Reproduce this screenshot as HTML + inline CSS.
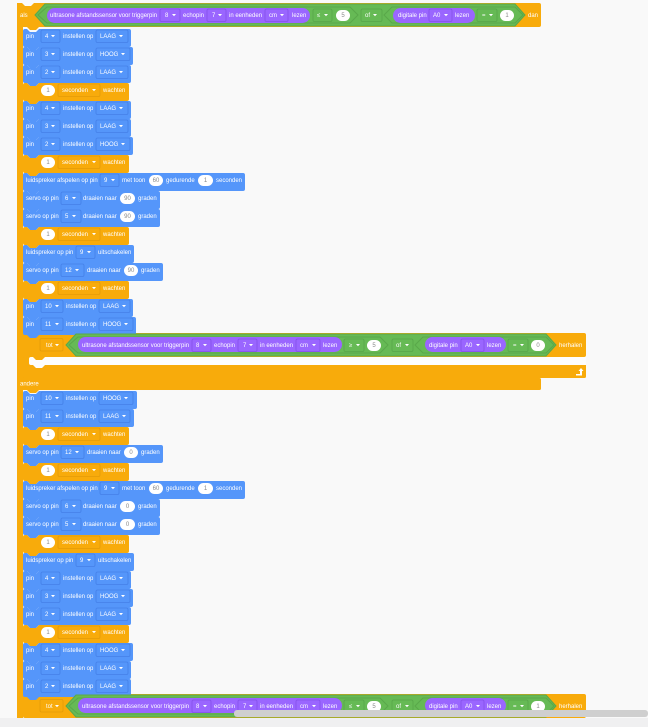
<!DOCTYPE html>
<html><head><meta charset="utf-8"><style>
html,body{margin:0;padding:0;background:#f9f9f9;width:648px;height:727px;overflow:hidden}
svg{display:block;position:absolute;left:0;top:0;filter:blur(.35px)}
text{font:6px "Liberation Sans",sans-serif;fill:#fff}
path{fill:#fff}
path.B{fill:#5596fa}
path.O{fill:#f8ab0b}
.or{fill:#f8ab0b}
.gr{fill:#66ba55;stroke:#59a84a;stroke-width:1}
.pu{fill:#9a66ff}
rect.d{y:-8px;height:12.5px;rx:1.5px;fill:#5596fa;stroke:#4580e8;stroke-width:.8}
rect.y{y:-8px;height:12.5px;rx:1.5px;fill:#f8ab0b;stroke:#e39c08;stroke-width:.8}
rect.g{y:-6px;height:12.5px;rx:1.5px;fill:#66ba55;stroke:#57a549;stroke-width:.8}
rect.p{y:-6px;height:12.5px;rx:1.5px;fill:#9a66ff;stroke:#8450ea;stroke-width:.8}
rect.o{y:-7px;height:11px;rx:5.5px;fill:#fff}
rect.q{y:-5px;height:11px;rx:5.5px;fill:#fff}
text.v{fill:#8a8a8a;text-anchor:middle}
</style></head><body>
<svg width="648" height="727" viewBox="0 0 648 727" xmlns="http://www.w3.org/2000/svg">
<rect x="17" y="3" width="6" height="715" class="or"/>
<rect x="17" y="3" width="524" height="24" rx="2" class="or"/>
<path d="M22 3l3 3h6l3-3z" style="fill:#f9f9f9"/>
<polygon points="27,27 30,30 36,30 39,27" class="or"/>
<g transform="translate(0,15)">
<text x="20" y="2">als</text>
<polygon class="gr" points="35,0 45,-11 515,-11 525,0 515,11 45,11"/>
<polygon class="gr" points="38,0 47,-8 350,-8 358,0 350,8 47,8"/>
<polygon class="gr" points="384,0 392,-8 515,-8 523,0 515,8 392,8"/>
<rect x="47" y="-7" width="263" height="15" rx="7.5" class="pu"/>
<text x="50" y="2">ultrasone afstandssensor voor triggerpin</text>
<rect class="p" x="160" width="20"/><text x="165" y="2">8</text><path d="M172-1h4l-2 2.200z"/>
<text x="183" y="2">echopin</text>
<rect class="p" x="207" width="19"/><text x="212" y="2">7</text><path d="M218-1h4l-2 2.200z"/>
<text x="229" y="2">in eenheden</text>
<rect class="p" x="265" width="23"/><text x="269" y="2">cm</text><path d="M280-1h4l-2 2.200z"/>
<text x="292" y="2">lezen</text>
<rect class="g" x="313" width="19"/><text x="317" y="2">≤</text><path d="M324-1h4l-2 2.200z"/>
<rect class="q" x="336" width="14"/><text class="v" x="343" y="2">5</text>
<rect class="g" x="361" width="21"/><text x="365" y="2">of</text><path d="M373-1h4l-2 2.200z"/>
<rect x="393" y="-7" width="82" height="15" rx="7.5" class="pu"/>
<text x="398" y="2">digitale pin</text>
<rect class="p" x="429" width="23"/><text x="433" y="2">A0</text><path d="M444-1h4l-2 2.200z"/>
<text x="455" y="2">lezen</text>
<rect class="g" x="477" width="20"/><text x="482" y="2">=</text><path d="M489-1h4l-2 2.200z"/>
<rect class="q" x="500" width="14"/><text class="v" x="507" y="2">1</text>
<text x="528" y="2">dan</text>
</g>

<!-- first repeat block -->
<rect x="23" y="333" width="563" height="24" rx="2" class="or"/>
<rect x="23" y="333" width="6" height="45" class="or"/>
<rect x="23" y="357" width="563" height="21" rx="1.5" class="or"/>
<path d="M31 357h2l3 3h6l3-3H586V365H45l-3 3h-6l-3-3h-2a2 2 0 0 1-2-2v-4a2 2 0 0 1 2-2z" style="fill:#fdfdfd"/>
<rect x="17" y="378" width="524" height="12" rx="1.5" class="or"/>
<polygon points="27,389 27,390 30,393 36,393 39,390 39,389" class="or"/>
<text x="20" y="385.5">andere</text>
<path d="M576 374h4v-3h-1.5l2.5-3 2.5 3h-1.5v4.500h-6z"/>
<!-- second repeat block -->
<rect x="23" y="694" width="563" height="24" rx="2" class="or"/>

<g transform="translate(0,38)"><path class="B" d="M23-7a2 2 0 0 1 2-2h2l3 3h6l3-3h90a2 2 0 0 1 2 2v14a2 2 0 0 1-2 2h-90l-3 3h-6l-3-3h-2a2 2 0 0 1-2-2z"/><text x="26">pin</text><rect class="d" x="41" width="19"/><text x="45">4</text><path d="M51-3h4l-2 2.200z"/><text x="63">instellen op</text><rect class="d" x="96" width="32"/><text x="100">LAAG</text><path d="M119-3h4l-2 2.200z"/></g>
<g transform="translate(0,56)"><path class="B" d="M23-7a2 2 0 0 1 2-2h2l3 3h6l3-3h92a2 2 0 0 1 2 2v14a2 2 0 0 1-2 2h-92l-3 3h-6l-3-3h-2a2 2 0 0 1-2-2z"/><text x="26">pin</text><rect class="d" x="41" width="19"/><text x="45">3</text><path d="M51-3h4l-2 2.200z"/><text x="63">instellen op</text><rect class="d" x="96" width="34"/><text x="100">HOOG</text><path d="M121-3h4l-2 2.200z"/></g>
<g transform="translate(0,74)"><path class="B" d="M23-7a2 2 0 0 1 2-2h2l3 3h6l3-3h90a2 2 0 0 1 2 2v14a2 2 0 0 1-2 2h-90l-3 3h-6l-3-3h-2a2 2 0 0 1-2-2z"/><text x="26">pin</text><rect class="d" x="41" width="19"/><text x="45">2</text><path d="M51-3h4l-2 2.200z"/><text x="63">instellen op</text><rect class="d" x="96" width="32"/><text x="100">LAAG</text><path d="M119-3h4l-2 2.200z"/></g>
<g transform="translate(0,92)"><path class="O" d="M23-7a2 2 0 0 1 2-2h2l3 3h6l3-3h88a2 2 0 0 1 2 2v14a2 2 0 0 1-2 2h-88l-3 3h-6l-3-3h-2a2 2 0 0 1-2-2z"/><rect class="o" x="41" width="14"/><text class="v" x="48">1</text><rect class="y" x="58" width="42"/><text x="62">seconden</text><path d="M92-3h4l-2 2.200z"/><text x="103">wachten</text></g>
<g transform="translate(0,110)"><path class="B" d="M23-7a2 2 0 0 1 2-2h2l3 3h6l3-3h90a2 2 0 0 1 2 2v14a2 2 0 0 1-2 2h-90l-3 3h-6l-3-3h-2a2 2 0 0 1-2-2z"/><text x="26">pin</text><rect class="d" x="41" width="19"/><text x="45">4</text><path d="M51-3h4l-2 2.200z"/><text x="63">instellen op</text><rect class="d" x="96" width="32"/><text x="100">LAAG</text><path d="M119-3h4l-2 2.200z"/></g>
<g transform="translate(0,128)"><path class="B" d="M23-7a2 2 0 0 1 2-2h2l3 3h6l3-3h90a2 2 0 0 1 2 2v14a2 2 0 0 1-2 2h-90l-3 3h-6l-3-3h-2a2 2 0 0 1-2-2z"/><text x="26">pin</text><rect class="d" x="41" width="19"/><text x="45">3</text><path d="M51-3h4l-2 2.200z"/><text x="63">instellen op</text><rect class="d" x="96" width="32"/><text x="100">LAAG</text><path d="M119-3h4l-2 2.200z"/></g>
<g transform="translate(0,146)"><path class="B" d="M23-7a2 2 0 0 1 2-2h2l3 3h6l3-3h92a2 2 0 0 1 2 2v14a2 2 0 0 1-2 2h-92l-3 3h-6l-3-3h-2a2 2 0 0 1-2-2z"/><text x="26">pin</text><rect class="d" x="41" width="19"/><text x="45">2</text><path d="M51-3h4l-2 2.200z"/><text x="63">instellen op</text><rect class="d" x="96" width="34"/><text x="100">HOOG</text><path d="M121-3h4l-2 2.200z"/></g>
<g transform="translate(0,164)"><path class="O" d="M23-7a2 2 0 0 1 2-2h2l3 3h6l3-3h88a2 2 0 0 1 2 2v14a2 2 0 0 1-2 2h-88l-3 3h-6l-3-3h-2a2 2 0 0 1-2-2z"/><rect class="o" x="41" width="14"/><text class="v" x="48">1</text><rect class="y" x="58" width="42"/><text x="62">seconden</text><path d="M92-3h4l-2 2.200z"/><text x="103">wachten</text></g>
<g transform="translate(0,182)"><path class="B" d="M23-7a2 2 0 0 1 2-2h2l3 3h6l3-3h204a2 2 0 0 1 2 2v14a2 2 0 0 1-2 2h-204l-3 3h-6l-3-3h-2a2 2 0 0 1-2-2z"/><text x="26">luidspreker afspelen op pin</text><rect class="d" x="100" width="19"/><text x="104">9</text><path d="M111-3h4l-2 2.200z"/><text x="122">met toon</text><rect class="o" x="149" width="14"/><text class="v" x="156">60</text><text x="166">gedurende</text><rect class="o" x="198" width="15"/><text class="v" x="205.500">1</text><text x="216">seconden</text></g>
<g transform="translate(0,200)"><path class="B" d="M23-7a2 2 0 0 1 2-2h2l3 3h6l3-3h119a2 2 0 0 1 2 2v14a2 2 0 0 1-2 2h-119l-3 3h-6l-3-3h-2a2 2 0 0 1-2-2z"/><text x="26">servo op pin</text><rect class="d" x="61" width="20"/><text x="65">6</text><path d="M72-3h4l-2 2.200z"/><text x="83">draaien naar</text><rect class="o" x="120" width="15"/><text class="v" x="127.500">90</text><text x="138">graden</text></g>
<g transform="translate(0,218)"><path class="B" d="M23-7a2 2 0 0 1 2-2h2l3 3h6l3-3h119a2 2 0 0 1 2 2v14a2 2 0 0 1-2 2h-119l-3 3h-6l-3-3h-2a2 2 0 0 1-2-2z"/><text x="26">servo op pin</text><rect class="d" x="61" width="20"/><text x="65">5</text><path d="M72-3h4l-2 2.200z"/><text x="83">draaien naar</text><rect class="o" x="120" width="15"/><text class="v" x="127.500">90</text><text x="138">graden</text></g>
<g transform="translate(0,236)"><path class="O" d="M23-7a2 2 0 0 1 2-2h2l3 3h6l3-3h88a2 2 0 0 1 2 2v14a2 2 0 0 1-2 2h-88l-3 3h-6l-3-3h-2a2 2 0 0 1-2-2z"/><rect class="o" x="41" width="14"/><text class="v" x="48">1</text><rect class="y" x="58" width="42"/><text x="62">seconden</text><path d="M92-3h4l-2 2.200z"/><text x="103">wachten</text></g>
<g transform="translate(0,254)"><path class="B" d="M23-7a2 2 0 0 1 2-2h2l3 3h6l3-3h93a2 2 0 0 1 2 2v14a2 2 0 0 1-2 2h-93l-3 3h-6l-3-3h-2a2 2 0 0 1-2-2z"/><text x="26">luidspreker op pin</text><rect class="d" x="76" width="19"/><text x="80">9</text><path d="M87-3h4l-2 2.200z"/><text x="98">uitschakelen</text></g>
<g transform="translate(0,272)"><path class="B" d="M23-7a2 2 0 0 1 2-2h2l3 3h6l3-3h122a2 2 0 0 1 2 2v14a2 2 0 0 1-2 2h-122l-3 3h-6l-3-3h-2a2 2 0 0 1-2-2z"/><text x="26">servo op pin</text><rect class="d" x="61" width="23"/><text x="65">12</text><path d="M75-3h4l-2 2.200z"/><text x="87">draaien naar</text><rect class="o" x="124" width="14"/><text class="v" x="131">90</text><text x="141">graden</text></g>
<g transform="translate(0,290)"><path class="O" d="M23-7a2 2 0 0 1 2-2h2l3 3h6l3-3h88a2 2 0 0 1 2 2v14a2 2 0 0 1-2 2h-88l-3 3h-6l-3-3h-2a2 2 0 0 1-2-2z"/><rect class="o" x="41" width="14"/><text class="v" x="48">1</text><rect class="y" x="58" width="42"/><text x="62">seconden</text><path d="M92-3h4l-2 2.200z"/><text x="103">wachten</text></g>
<g transform="translate(0,308)"><path class="B" d="M23-7a2 2 0 0 1 2-2h2l3 3h6l3-3h92a2 2 0 0 1 2 2v14a2 2 0 0 1-2 2h-92l-3 3h-6l-3-3h-2a2 2 0 0 1-2-2z"/><text x="26">pin</text><rect class="d" x="41" width="22"/><text x="45">10</text><path d="M55-3h4l-2 2.200z"/><text x="66">instellen op</text><rect class="d" x="99" width="31"/><text x="103">LAAG</text><path d="M122-3h4l-2 2.200z"/></g>
<g transform="translate(0,326)"><path class="B" d="M23-7a2 2 0 0 1 2-2h2l3 3h6l3-3h95a2 2 0 0 1 2 2v14a2 2 0 0 1-2 2h-95l-3 3h-6l-3-3h-2a2 2 0 0 1-2-2z"/><text x="26">pin</text><rect class="d" x="41" width="22"/><text x="45">11</text><path d="M55-3h4l-2 2.200z"/><text x="66">instellen op</text><rect class="d" x="99" width="34"/><text x="103">HOOG</text><path d="M124-3h4l-2 2.200z"/></g>

<g transform="translate(0,345)">
<rect class="y" x="40" width="23" style="y:-6.500px"/><text x="46" y="2">tot</text><path d="M55-1h4l-2 2.200z"/>
<polygon class="gr" points="66,0 76,-11 546,-11 556,0 546,11 76,11"/>
<polygon class="gr" points="69,0 78,-8 380,-8 388,0 380,8 78,8"/>
<polygon class="gr" points="415,0 423,-8 546,-8 554,0 546,8 423,8"/>
<rect x="78" y="-8" width="264" height="15" rx="7.500" class="pu"/>
<text x="82" y="2">ultrasone afstandssensor voor triggerpin</text>
<rect class="p" x="192" width="19"/><text x="196" y="2">8</text><path d="M203-1h4l-2 2.200z"/>
<text x="214" y="2">echopin</text>
<rect class="p" x="238" width="19"/><text x="243" y="2">7</text><path d="M249-1h4l-2 2.200z"/>
<text x="260" y="2">in eenheden</text>
<rect class="p" x="296" width="24"/><text x="300" y="2">cm</text><path d="M312-1h4l-2 2.200z"/>
<text x="323" y="2">lezen</text>
<rect class="g" x="344" width="20"/><text x="349" y="2">≥</text><path d="M356-1h4l-2 2.200z"/>
<rect class="q" x="367" width="14"/><text class="v" x="374" y="2">5</text>
<rect class="g" x="392" width="21"/><text x="396" y="2">of</text><path d="M405-1h4l-2 2.200z"/>
<rect x="425" y="-8" width="81" height="15" rx="7.500" class="pu"/>
<text x="429" y="2">digitale pin</text>
<rect class="p" x="461" width="23"/><text x="465" y="2">A0</text><path d="M476-1h4l-2 2.200z"/>
<text x="487" y="2">lezen</text>
<rect class="g" x="508" width="20"/><text x="513" y="2">=</text><path d="M520-1h4l-2 2.200z"/>
<rect class="q" x="531" width="14"/><text class="v" x="538" y="2">0</text>
<text x="559" y="2">herhalen</text>
</g>

<g transform="translate(0,400)"><path class="B" d="M23-7a2 2 0 0 1 2-2h2l3 3h6l3-3h96a2 2 0 0 1 2 2v14a2 2 0 0 1-2 2h-96l-3 3h-6l-3-3h-2a2 2 0 0 1-2-2z"/><text x="26">pin</text><rect class="d" x="41" width="22"/><text x="45">10</text><path d="M55-3h4l-2 2.200z"/><text x="66">instellen op</text><rect class="d" x="99" width="34"/><text x="103">HOOG</text><path d="M124-3h4l-2 2.200z"/></g>
<g transform="translate(0,418)"><path class="B" d="M23-7a2 2 0 0 1 2-2h2l3 3h6l3-3h93a2 2 0 0 1 2 2v14a2 2 0 0 1-2 2h-93l-3 3h-6l-3-3h-2a2 2 0 0 1-2-2z"/><text x="26">pin</text><rect class="d" x="41" width="22"/><text x="45">11</text><path d="M55-3h4l-2 2.200z"/><text x="66">instellen op</text><rect class="d" x="99" width="31"/><text x="103">LAAG</text><path d="M122-3h4l-2 2.200z"/></g>
<g transform="translate(0,436)"><path class="O" d="M23-7a2 2 0 0 1 2-2h2l3 3h6l3-3h88a2 2 0 0 1 2 2v14a2 2 0 0 1-2 2h-88l-3 3h-6l-3-3h-2a2 2 0 0 1-2-2z"/><rect class="o" x="41" width="14"/><text class="v" x="48">1</text><rect class="y" x="58" width="42"/><text x="62">seconden</text><path d="M92-3h4l-2 2.200z"/><text x="103">wachten</text></g>
<g transform="translate(0,454)"><path class="B" d="M23-7a2 2 0 0 1 2-2h2l3 3h6l3-3h122a2 2 0 0 1 2 2v14a2 2 0 0 1-2 2h-122l-3 3h-6l-3-3h-2a2 2 0 0 1-2-2z"/><text x="26">servo op pin</text><rect class="d" x="61" width="23"/><text x="65">12</text><path d="M75-3h4l-2 2.200z"/><text x="87">draaien naar</text><rect class="o" x="124" width="14"/><text class="v" x="131">0</text><text x="141">graden</text></g>
<g transform="translate(0,472)"><path class="O" d="M23-7a2 2 0 0 1 2-2h2l3 3h6l3-3h88a2 2 0 0 1 2 2v14a2 2 0 0 1-2 2h-88l-3 3h-6l-3-3h-2a2 2 0 0 1-2-2z"/><rect class="o" x="41" width="14"/><text class="v" x="48">1</text><rect class="y" x="58" width="42"/><text x="62">seconden</text><path d="M92-3h4l-2 2.200z"/><text x="103">wachten</text></g>
<g transform="translate(0,490)"><path class="B" d="M23-7a2 2 0 0 1 2-2h2l3 3h6l3-3h204a2 2 0 0 1 2 2v14a2 2 0 0 1-2 2h-204l-3 3h-6l-3-3h-2a2 2 0 0 1-2-2z"/><text x="26">luidspreker afspelen op pin</text><rect class="d" x="100" width="19"/><text x="104">9</text><path d="M111-3h4l-2 2.200z"/><text x="122">met toon</text><rect class="o" x="149" width="14"/><text class="v" x="156">60</text><text x="166">gedurende</text><rect class="o" x="198" width="15"/><text class="v" x="205.500">1</text><text x="216">seconden</text></g>
<g transform="translate(0,508)"><path class="B" d="M23-7a2 2 0 0 1 2-2h2l3 3h6l3-3h119a2 2 0 0 1 2 2v14a2 2 0 0 1-2 2h-119l-3 3h-6l-3-3h-2a2 2 0 0 1-2-2z"/><text x="26">servo op pin</text><rect class="d" x="61" width="20"/><text x="65">6</text><path d="M72-3h4l-2 2.200z"/><text x="83">draaien naar</text><rect class="o" x="120" width="15"/><text class="v" x="127.500">0</text><text x="138">graden</text></g>
<g transform="translate(0,526)"><path class="B" d="M23-7a2 2 0 0 1 2-2h2l3 3h6l3-3h119a2 2 0 0 1 2 2v14a2 2 0 0 1-2 2h-119l-3 3h-6l-3-3h-2a2 2 0 0 1-2-2z"/><text x="26">servo op pin</text><rect class="d" x="61" width="20"/><text x="65">5</text><path d="M72-3h4l-2 2.200z"/><text x="83">draaien naar</text><rect class="o" x="120" width="15"/><text class="v" x="127.500">0</text><text x="138">graden</text></g>
<g transform="translate(0,544)"><path class="O" d="M23-7a2 2 0 0 1 2-2h2l3 3h6l3-3h88a2 2 0 0 1 2 2v14a2 2 0 0 1-2 2h-88l-3 3h-6l-3-3h-2a2 2 0 0 1-2-2z"/><rect class="o" x="41" width="14"/><text class="v" x="48">1</text><rect class="y" x="58" width="42"/><text x="62">seconden</text><path d="M92-3h4l-2 2.200z"/><text x="103">wachten</text></g>
<g transform="translate(0,562)"><path class="B" d="M23-7a2 2 0 0 1 2-2h2l3 3h6l3-3h93a2 2 0 0 1 2 2v14a2 2 0 0 1-2 2h-93l-3 3h-6l-3-3h-2a2 2 0 0 1-2-2z"/><text x="26">luidspreker op pin</text><rect class="d" x="76" width="19"/><text x="80">9</text><path d="M87-3h4l-2 2.200z"/><text x="98">uitschakelen</text></g>
<g transform="translate(0,580)"><path class="B" d="M23-7a2 2 0 0 1 2-2h2l3 3h6l3-3h90a2 2 0 0 1 2 2v14a2 2 0 0 1-2 2h-90l-3 3h-6l-3-3h-2a2 2 0 0 1-2-2z"/><text x="26">pin</text><rect class="d" x="41" width="19"/><text x="45">4</text><path d="M51-3h4l-2 2.200z"/><text x="63">instellen op</text><rect class="d" x="96" width="32"/><text x="100">LAAG</text><path d="M119-3h4l-2 2.200z"/></g>
<g transform="translate(0,598)"><path class="B" d="M23-7a2 2 0 0 1 2-2h2l3 3h6l3-3h92a2 2 0 0 1 2 2v14a2 2 0 0 1-2 2h-92l-3 3h-6l-3-3h-2a2 2 0 0 1-2-2z"/><text x="26">pin</text><rect class="d" x="41" width="19"/><text x="45">3</text><path d="M51-3h4l-2 2.200z"/><text x="63">instellen op</text><rect class="d" x="96" width="34"/><text x="100">HOOG</text><path d="M121-3h4l-2 2.200z"/></g>
<g transform="translate(0,616)"><path class="B" d="M23-7a2 2 0 0 1 2-2h2l3 3h6l3-3h90a2 2 0 0 1 2 2v14a2 2 0 0 1-2 2h-90l-3 3h-6l-3-3h-2a2 2 0 0 1-2-2z"/><text x="26">pin</text><rect class="d" x="41" width="19"/><text x="45">2</text><path d="M51-3h4l-2 2.200z"/><text x="63">instellen op</text><rect class="d" x="96" width="32"/><text x="100">LAAG</text><path d="M119-3h4l-2 2.200z"/></g>
<g transform="translate(0,634)"><path class="O" d="M23-7a2 2 0 0 1 2-2h2l3 3h6l3-3h88a2 2 0 0 1 2 2v14a2 2 0 0 1-2 2h-88l-3 3h-6l-3-3h-2a2 2 0 0 1-2-2z"/><rect class="o" x="41" width="14"/><text class="v" x="48">1</text><rect class="y" x="58" width="42"/><text x="62">seconden</text><path d="M92-3h4l-2 2.200z"/><text x="103">wachten</text></g>
<g transform="translate(0,652)"><path class="B" d="M23-7a2 2 0 0 1 2-2h2l3 3h6l3-3h92a2 2 0 0 1 2 2v14a2 2 0 0 1-2 2h-92l-3 3h-6l-3-3h-2a2 2 0 0 1-2-2z"/><text x="26">pin</text><rect class="d" x="41" width="19"/><text x="45">4</text><path d="M51-3h4l-2 2.200z"/><text x="63">instellen op</text><rect class="d" x="96" width="34"/><text x="100">HOOG</text><path d="M121-3h4l-2 2.200z"/></g>
<g transform="translate(0,670)"><path class="B" d="M23-7a2 2 0 0 1 2-2h2l3 3h6l3-3h90a2 2 0 0 1 2 2v14a2 2 0 0 1-2 2h-90l-3 3h-6l-3-3h-2a2 2 0 0 1-2-2z"/><text x="26">pin</text><rect class="d" x="41" width="19"/><text x="45">3</text><path d="M51-3h4l-2 2.200z"/><text x="63">instellen op</text><rect class="d" x="96" width="32"/><text x="100">LAAG</text><path d="M119-3h4l-2 2.200z"/></g>
<g transform="translate(0,688)"><path class="B" d="M23-7a2 2 0 0 1 2-2h2l3 3h6l3-3h90a2 2 0 0 1 2 2v14a2 2 0 0 1-2 2h-90l-3 3h-6l-3-3h-2a2 2 0 0 1-2-2z"/><text x="26">pin</text><rect class="d" x="41" width="19"/><text x="45">2</text><path d="M51-3h4l-2 2.200z"/><text x="63">instellen op</text><rect class="d" x="96" width="32"/><text x="100">LAAG</text><path d="M119-3h4l-2 2.200z"/></g>

<g transform="translate(0,706)">
<rect class="y" x="40" width="23" style="y:-6.500px"/><text x="46" y="2">tot</text><path d="M55-1h4l-2 2.200z"/>
<polygon class="gr" points="66,0 76,-11 546,-11 556,0 546,11 76,11"/>
<polygon class="gr" points="69,0 78,-8 380,-8 388,0 380,8 78,8"/>
<polygon class="gr" points="415,0 423,-8 546,-8 554,0 546,8 423,8"/>
<rect x="78" y="-8" width="264" height="15" rx="7.500" class="pu"/>
<text x="82" y="2">ultrasone afstandssensor voor triggerpin</text>
<rect class="p" x="192" width="19"/><text x="196" y="2">8</text><path d="M203-1h4l-2 2.200z"/>
<text x="214" y="2">echopin</text>
<rect class="p" x="238" width="19"/><text x="243" y="2">7</text><path d="M249-1h4l-2 2.200z"/>
<text x="260" y="2">in eenheden</text>
<rect class="p" x="296" width="24"/><text x="300" y="2">cm</text><path d="M312-1h4l-2 2.200z"/>
<text x="323" y="2">lezen</text>
<rect class="g" x="344" width="20"/><text x="349" y="2">≤</text><path d="M356-1h4l-2 2.200z"/>
<rect class="q" x="367" width="14"/><text class="v" x="374" y="2">5</text>
<rect class="g" x="392" width="21"/><text x="396" y="2">of</text><path d="M405-1h4l-2 2.200z"/>
<rect x="425" y="-8" width="81" height="15" rx="7.500" class="pu"/>
<text x="429" y="2">digitale pin</text>
<rect class="p" x="461" width="23"/><text x="465" y="2">A0</text><path d="M476-1h4l-2 2.200z"/>
<text x="487" y="2">lezen</text>
<rect class="g" x="508" width="20"/><text x="513" y="2">=</text><path d="M520-1h4l-2 2.200z"/>
<rect class="q" x="531" width="14"/><text class="v" x="538" y="2">1</text>
<text x="559" y="2">herhalen</text>
</g>

<rect x="0" y="718" width="648" height="9" fill="#f0f0f1"/>
<rect x="234" y="710" width="414" height="7" rx="3" fill="#cfcfcf"/>
</svg>
</body></html>
